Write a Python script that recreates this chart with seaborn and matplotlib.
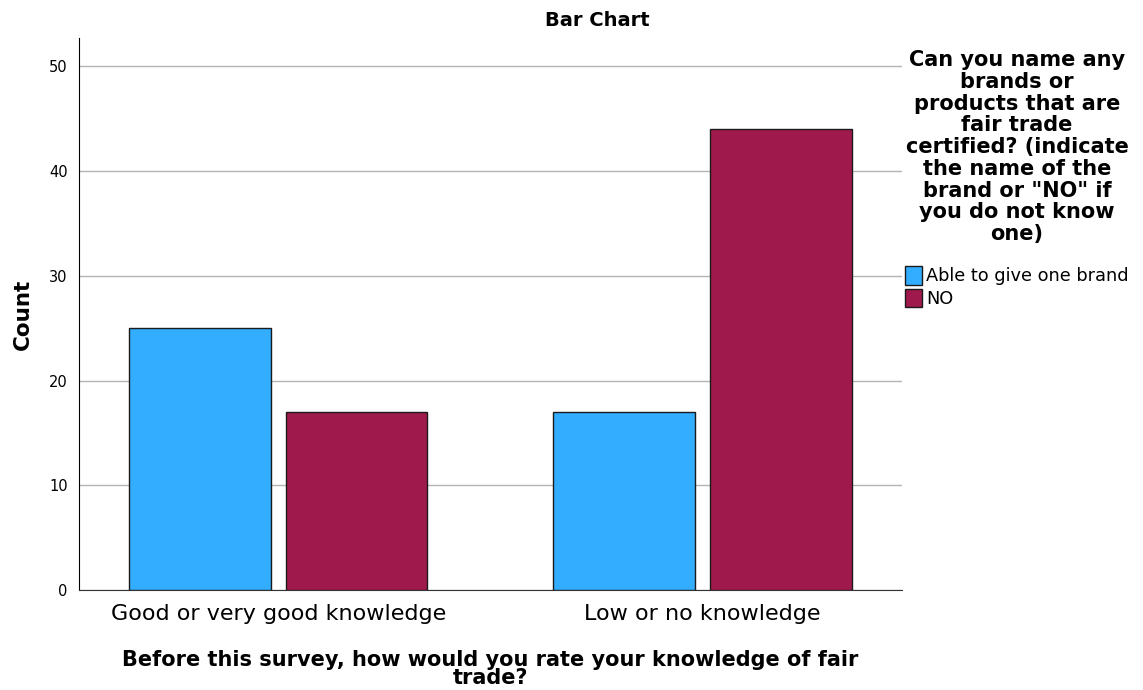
import pandas as pd
import matplotlib
matplotlib.use('Agg')
import matplotlib.pyplot as plt
import seaborn as sns

# Data
knowledge = ['Good or very good knowledge', 'Low or no knowledge']
able_to_name = [25, 17]
said_no = [17, 44]
groups = ['Able to give one brand', 'NO']
colors = ['#32adff', '#a0194c']

df = pd.DataFrame({
    'knowledge': knowledge * 2,
    'answer': [groups[0]] * 2 + [groups[1]] * 2,
    'count': able_to_name + said_no,
})

sns.set_style('white')
plt.rcParams['font.family'] = ['DejaVu Sans']
plt.rcParams['text.color'] = 'black'

fig = plt.figure(figsize=(11.43, 6.9), dpi=100)
ax = fig.add_axes([0.0691, 0.1449, 0.7200, 0.8000])

sns.barplot(data=df, x='knowledge', y='count', hue='answer', order=knowledge,
            hue_order=groups, palette=colors, width=0.74, gap=0.1,
            edgecolor='#1a1a1a', linewidth=1, saturation=1, ax=ax, zorder=3)

ax.set_xlim(-0.47, 1.47)
ax.set_ylim(0, 52.7)
ax.set_yticks([0, 10, 20, 30, 40, 50])
ax.yaxis.grid(True, color='#b3b3b3', linewidth=1, zorder=0)
ax.set_axisbelow(True)
for s in ['top', 'right']:
    ax.spines[s].set_visible(False)
ax.spines['left'].set_color('black')
ax.spines['bottom'].set_color('#333333')
ax.tick_params(axis='y', length=0, pad=8, labelsize=10.5, labelcolor='black')
ax.tick_params(axis='x', length=0, pad=10, labelsize=16, labelcolor='black')

fig.text(597 / 1143, 1 - 21 / 690, 'Bar Chart', fontsize=14, fontweight='bold',
         ha='center', va='center')
ax.set_ylabel('Count', fontsize=15.5, fontweight='bold', labelpad=12, color='black')
ax.set_xlabel('Before this survey, how would you rate your knowledge of fair\ntrade?',
              fontsize=15, fontweight='bold', labelpad=19, linespacing=0.85,
              color='black')

leg = ax.legend(title='Can you name any\nbrands or\nproducts that are\nfair trade\ncertified? (indicate\nthe name of the\nbrand or "NO" if\nyou do not know\none)',
                loc='upper center', bbox_to_anchor=(1017 / 1143, 1 - 50 / 690),
                bbox_transform=fig.transFigure, frameon=False, fontsize=12.8,
                title_fontsize=15, handlelength=0.95, handleheight=1.2,
                handletextpad=0.25, labelspacing=0.2, borderpad=0, borderaxespad=0)
leg.get_title().set_fontweight('bold')
leg.get_title().set_multialignment('center')
leg.get_title().set_linespacing(1.11)
leg._legend_box.sep = 16

fig.savefig('out.png', dpi=100)
